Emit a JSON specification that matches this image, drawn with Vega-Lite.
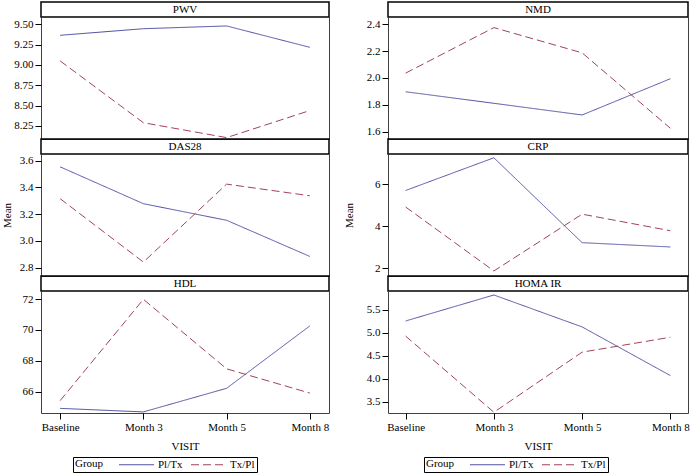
{
  "$schema": "https://vega.github.io/schema/vega-lite/v6.json",
  "padding": {"left": 0, "top": 1, "right": 0, "bottom": 0},
  "background": "#ffffff",
  "config": {
    "font": "Liberation Serif",
    "view": {"stroke": "#404040", "strokeWidth": 1},
    "text": {"font": "Liberation Serif"},
    "axis": {
      "labelFont": "Liberation Serif", "labelFontSize": 11, "labelColor": "#000",
      "titleFont": "Liberation Serif", "titleFontSize": 11, "titleFontWeight": "normal", "titleColor": "#000",
      "tickColor": "#000", "domain": false, "grid": false, "tickSize": 6, "labelPadding": 2
    },
    "legend": {
      "orient": "bottom", "direction": "horizontal", "titleOrient": "left",
      "titleFont": "Liberation Serif", "titleFontSize": 11, "titleFontWeight": "normal", "titleColor": "#000",
      "labelFont": "Liberation Serif", "labelFontSize": 11, "labelColor": "#000",
      "strokeColor": "#000", "padding": 2, "offset": 5,
      "symbolType": "M-3.5,0H3.5", "symbolSize": 100, "symbolStrokeWidth": 1,
      "labelOffset": 16, "columnPadding": 6, "titlePadding": 27,
      "layout": {"bottom": {"anchor": "middle"}}
    }
  },
  "datasets": {
    "t": [
      {"m": "PWV"}, {"m": "DAS28"}, {"m": "HDL"}, {"m": "NMD"}, {"m": "CRP"}, {"m": "HOMA IR"}
    ],
    "d": [
      {"m": "PWV", "visit": "Baseline", "group": "Pl/Tx", "mean": 9.365},
      {"m": "PWV", "visit": "Month 3", "group": "Pl/Tx", "mean": 9.446},
      {"m": "PWV", "visit": "Month 5", "group": "Pl/Tx", "mean": 9.48},
      {"m": "PWV", "visit": "Month 8", "group": "Pl/Tx", "mean": 9.217},
      {"m": "PWV", "visit": "Baseline", "group": "Tx/Pl", "mean": 9.05},
      {"m": "PWV", "visit": "Month 3", "group": "Tx/Pl", "mean": 8.29},
      {"m": "PWV", "visit": "Month 5", "group": "Tx/Pl", "mean": 8.107},
      {"m": "PWV", "visit": "Month 8", "group": "Tx/Pl", "mean": 8.44},
      {"m": "DAS28", "visit": "Baseline", "group": "Pl/Tx", "mean": 3.553},
      {"m": "DAS28", "visit": "Month 3", "group": "Pl/Tx", "mean": 3.278},
      {"m": "DAS28", "visit": "Month 5", "group": "Pl/Tx", "mean": 3.154},
      {"m": "DAS28", "visit": "Month 8", "group": "Pl/Tx", "mean": 2.884},
      {"m": "DAS28", "visit": "Baseline", "group": "Tx/Pl", "mean": 3.315},
      {"m": "DAS28", "visit": "Month 3", "group": "Tx/Pl", "mean": 2.842},
      {"m": "DAS28", "visit": "Month 5", "group": "Tx/Pl", "mean": 3.424},
      {"m": "DAS28", "visit": "Month 8", "group": "Tx/Pl", "mean": 3.337},
      {"m": "HDL", "visit": "Baseline", "group": "Pl/Tx", "mean": 64.92},
      {"m": "HDL", "visit": "Month 3", "group": "Pl/Tx", "mean": 64.69},
      {"m": "HDL", "visit": "Month 5", "group": "Pl/Tx", "mean": 66.22},
      {"m": "HDL", "visit": "Month 8", "group": "Pl/Tx", "mean": 70.26},
      {"m": "HDL", "visit": "Baseline", "group": "Tx/Pl", "mean": 65.42},
      {"m": "HDL", "visit": "Month 3", "group": "Tx/Pl", "mean": 71.98},
      {"m": "HDL", "visit": "Month 5", "group": "Tx/Pl", "mean": 67.48},
      {"m": "HDL", "visit": "Month 8", "group": "Tx/Pl", "mean": 65.91},
      {"m": "NMD", "visit": "Baseline", "group": "Pl/Tx", "mean": 1.897},
      {"m": "NMD", "visit": "Month 3", "group": "Pl/Tx", "mean": 1.811},
      {"m": "NMD", "visit": "Month 5", "group": "Pl/Tx", "mean": 1.724},
      {"m": "NMD", "visit": "Month 8", "group": "Pl/Tx", "mean": 1.994},
      {"m": "NMD", "visit": "Baseline", "group": "Tx/Pl", "mean": 2.036},
      {"m": "NMD", "visit": "Month 3", "group": "Tx/Pl", "mean": 2.375},
      {"m": "NMD", "visit": "Month 5", "group": "Tx/Pl", "mean": 2.187},
      {"m": "NMD", "visit": "Month 8", "group": "Tx/Pl", "mean": 1.625},
      {"m": "CRP", "visit": "Baseline", "group": "Pl/Tx", "mean": 5.70},
      {"m": "CRP", "visit": "Month 3", "group": "Pl/Tx", "mean": 7.26},
      {"m": "CRP", "visit": "Month 5", "group": "Pl/Tx", "mean": 3.21},
      {"m": "CRP", "visit": "Month 8", "group": "Pl/Tx", "mean": 3.005},
      {"m": "CRP", "visit": "Baseline", "group": "Tx/Pl", "mean": 4.91},
      {"m": "CRP", "visit": "Month 3", "group": "Tx/Pl", "mean": 1.86},
      {"m": "CRP", "visit": "Month 5", "group": "Tx/Pl", "mean": 4.57},
      {"m": "CRP", "visit": "Month 8", "group": "Tx/Pl", "mean": 3.78},
      {"m": "HOMA IR", "visit": "Baseline", "group": "Pl/Tx", "mean": 5.26},
      {"m": "HOMA IR", "visit": "Month 3", "group": "Pl/Tx", "mean": 5.826},
      {"m": "HOMA IR", "visit": "Month 5", "group": "Pl/Tx", "mean": 5.13},
      {"m": "HOMA IR", "visit": "Month 8", "group": "Pl/Tx", "mean": 4.07},
      {"m": "HOMA IR", "visit": "Baseline", "group": "Tx/Pl", "mean": 4.93},
      {"m": "HOMA IR", "visit": "Month 3", "group": "Tx/Pl", "mean": 3.27},
      {"m": "HOMA IR", "visit": "Month 5", "group": "Tx/Pl", "mean": 4.58},
      {"m": "HOMA IR", "visit": "Month 8", "group": "Tx/Pl", "mean": 4.905}
    ]
  },
  "resolve": {"legend": {"color": "independent", "strokeDash": "independent"}},
  "spacing": 13,
  "hconcat": [
    {
      "spacing": 0, "bounds": "flush",
      "vconcat": [
        {"data": {"name": "t"}, "transform": [{"filter": "datum.m == 'PWV'"}], "width": 288, "height": 15, "view": {"stroke": "#000", "strokeWidth": 1.5},
         "mark": {"type": "text", "fontSize": 11, "color": "#000", "font": "Liberation Serif"}, "encoding": {"text": {"field": "m"}}},
        {"data": {"name": "d"}, "transform": [{"filter": "datum.m == 'PWV'"}], "width": 288, "height": 122,
         "mark": {"type": "line", "strokeWidth": 1},
         "encoding": {
           "x": {"field": "visit", "type": "ordinal", "scale": {"type": "point", "padding": 0.23, "domain": ["Baseline", "Month 3", "Month 5", "Month 8"]}, "axis": null},
           "y": {"field": "mean", "type": "quantitative", "scale": {"domain": [8.09, 9.59], "nice": false, "zero": false}, "axis": {"values": [8.25, 8.5, 8.75, 9.0, 9.25, 9.5], "format": ".2f", "title": null}},
           "color": {"field": "group", "type": "nominal", "scale": {"domain": ["Pl/Tx", "Tx/Pl"], "range": ["#5050a4", "#a04458"]}, "title": "Group"},
           "strokeDash": {"field": "group", "type": "nominal", "scale": {"domain": ["Pl/Tx", "Tx/Pl"], "range": [[1, 0], [8, 4]]}, "title": "Group"}
         }},
        {"data": {"name": "t"}, "transform": [{"filter": "datum.m == 'DAS28'"}], "width": 288, "height": 15, "view": {"stroke": "#000", "strokeWidth": 1.5},
         "mark": {"type": "text", "fontSize": 11, "color": "#000", "font": "Liberation Serif"}, "encoding": {"text": {"field": "m"}}},
        {"data": {"name": "d"}, "transform": [{"filter": "datum.m == 'DAS28'"}], "width": 288, "height": 122,
         "mark": {"type": "line", "strokeWidth": 1},
         "encoding": {
           "x": {"field": "visit", "type": "ordinal", "scale": {"type": "point", "padding": 0.23, "domain": ["Baseline", "Month 3", "Month 5", "Month 8"]}, "axis": null},
           "y": {"field": "mean", "type": "quantitative", "scale": {"domain": [2.738, 3.649], "nice": false, "zero": false}, "axis": {"values": [2.8, 3.0, 3.2, 3.4, 3.6], "format": ".1f", "title": "Mean", "titlePadding": 7}},
           "color": {"field": "group", "type": "nominal", "scale": {"domain": ["Pl/Tx", "Tx/Pl"], "range": ["#5050a4", "#a04458"]}, "title": "Group"},
           "strokeDash": {"field": "group", "type": "nominal", "scale": {"domain": ["Pl/Tx", "Tx/Pl"], "range": [[1, 0], [8, 4]]}, "title": "Group"}
         }},
        {"data": {"name": "t"}, "transform": [{"filter": "datum.m == 'HDL'"}], "width": 288, "height": 15, "view": {"stroke": "#000", "strokeWidth": 1.5},
         "mark": {"type": "text", "fontSize": 11, "color": "#000", "font": "Liberation Serif"}, "encoding": {"text": {"field": "m"}}},
        {"data": {"name": "d"}, "transform": [{"filter": "datum.m == 'HDL'"}], "width": 288, "height": 122,
         "mark": {"type": "line", "strokeWidth": 1},
         "encoding": {
           "x": {"field": "visit", "type": "ordinal", "scale": {"type": "point", "padding": 0.23, "domain": ["Baseline", "Month 3", "Month 5", "Month 8"]}, "axis": {"title": "VISIT", "labelAngle": 0, "titlePadding": 8}},
           "y": {"field": "mean", "type": "quantitative", "scale": {"domain": [64.62, 72.52], "nice": false, "zero": false}, "axis": {"values": [66, 68, 70, 72], "format": "d", "title": null}},
           "color": {"field": "group", "type": "nominal", "scale": {"domain": ["Pl/Tx", "Tx/Pl"], "range": ["#5050a4", "#a04458"]}, "title": "Group"},
           "strokeDash": {"field": "group", "type": "nominal", "scale": {"domain": ["Pl/Tx", "Tx/Pl"], "range": [[1, 0], [8, 4]]}, "title": "Group"}
         }}
      ]
    },
    {
      "spacing": 0, "bounds": "flush",
      "vconcat": [
        {"data": {"name": "t"}, "transform": [{"filter": "datum.m == 'NMD'"}], "width": 300, "height": 15, "view": {"stroke": "#000", "strokeWidth": 1.5},
         "mark": {"type": "text", "fontSize": 11, "color": "#000", "font": "Liberation Serif"}, "encoding": {"text": {"field": "m"}}},
        {"data": {"name": "d"}, "transform": [{"filter": "datum.m == 'NMD'"}], "width": 300, "height": 122,
         "mark": {"type": "line", "strokeWidth": 1},
         "encoding": {
           "x": {"field": "visit", "type": "ordinal", "scale": {"type": "point", "padding": 0.2, "domain": ["Baseline", "Month 3", "Month 5", "Month 8"]}, "axis": null},
           "y": {"field": "mean", "type": "quantitative", "scale": {"domain": [1.545, 2.454], "nice": false, "zero": false}, "axis": {"values": [1.6, 1.8, 2.0, 2.2, 2.4], "format": ".1f", "title": null}},
           "color": {"field": "group", "type": "nominal", "scale": {"domain": ["Pl/Tx", "Tx/Pl"], "range": ["#5050a4", "#a04458"]}, "title": "Group"},
           "strokeDash": {"field": "group", "type": "nominal", "scale": {"domain": ["Pl/Tx", "Tx/Pl"], "range": [[1, 0], [8, 4]]}, "title": "Group"}
         }},
        {"data": {"name": "t"}, "transform": [{"filter": "datum.m == 'CRP'"}], "width": 300, "height": 15, "view": {"stroke": "#000", "strokeWidth": 1.5},
         "mark": {"type": "text", "fontSize": 11, "color": "#000", "font": "Liberation Serif"}, "encoding": {"text": {"field": "m"}}},
        {"data": {"name": "d"}, "transform": [{"filter": "datum.m == 'CRP'"}], "width": 300, "height": 122,
         "mark": {"type": "line", "strokeWidth": 1},
         "encoding": {
           "x": {"field": "visit", "type": "ordinal", "scale": {"type": "point", "padding": 0.2, "domain": ["Baseline", "Month 3", "Month 5", "Month 8"]}, "axis": null},
           "y": {"field": "mean", "type": "quantitative", "scale": {"domain": [1.62, 7.44], "nice": false, "zero": false}, "axis": {"values": [2, 4, 6], "format": "d", "title": "Mean", "titlePadding": 20}},
           "color": {"field": "group", "type": "nominal", "scale": {"domain": ["Pl/Tx", "Tx/Pl"], "range": ["#5050a4", "#a04458"]}, "title": "Group"},
           "strokeDash": {"field": "group", "type": "nominal", "scale": {"domain": ["Pl/Tx", "Tx/Pl"], "range": [[1, 0], [8, 4]]}, "title": "Group"}
         }},
        {"data": {"name": "t"}, "transform": [{"filter": "datum.m == 'HOMA IR'"}], "width": 300, "height": 15, "view": {"stroke": "#000", "strokeWidth": 1.5},
         "mark": {"type": "text", "fontSize": 11, "color": "#000", "font": "Liberation Serif"}, "encoding": {"text": {"field": "m"}}},
        {"data": {"name": "d"}, "transform": [{"filter": "datum.m == 'HOMA IR'"}], "width": 300, "height": 122,
         "mark": {"type": "line", "strokeWidth": 1},
         "encoding": {
           "x": {"field": "visit", "type": "ordinal", "scale": {"type": "point", "padding": 0.2, "domain": ["Baseline", "Month 3", "Month 5", "Month 8"]}, "axis": {"title": "VISIT", "labelAngle": 0, "titlePadding": 8}},
           "y": {"field": "mean", "type": "quantitative", "scale": {"domain": [3.254, 5.913], "nice": false, "zero": false}, "axis": {"values": [3.5, 4.0, 4.5, 5.0, 5.5], "format": ".1f", "title": null}},
           "color": {"field": "group", "type": "nominal", "scale": {"domain": ["Pl/Tx", "Tx/Pl"], "range": ["#5050a4", "#a04458"]}, "title": "Group"},
           "strokeDash": {"field": "group", "type": "nominal", "scale": {"domain": ["Pl/Tx", "Tx/Pl"], "range": [[1, 0], [8, 4]]}, "title": "Group"}
         }}
      ]
    }
  ]
}
